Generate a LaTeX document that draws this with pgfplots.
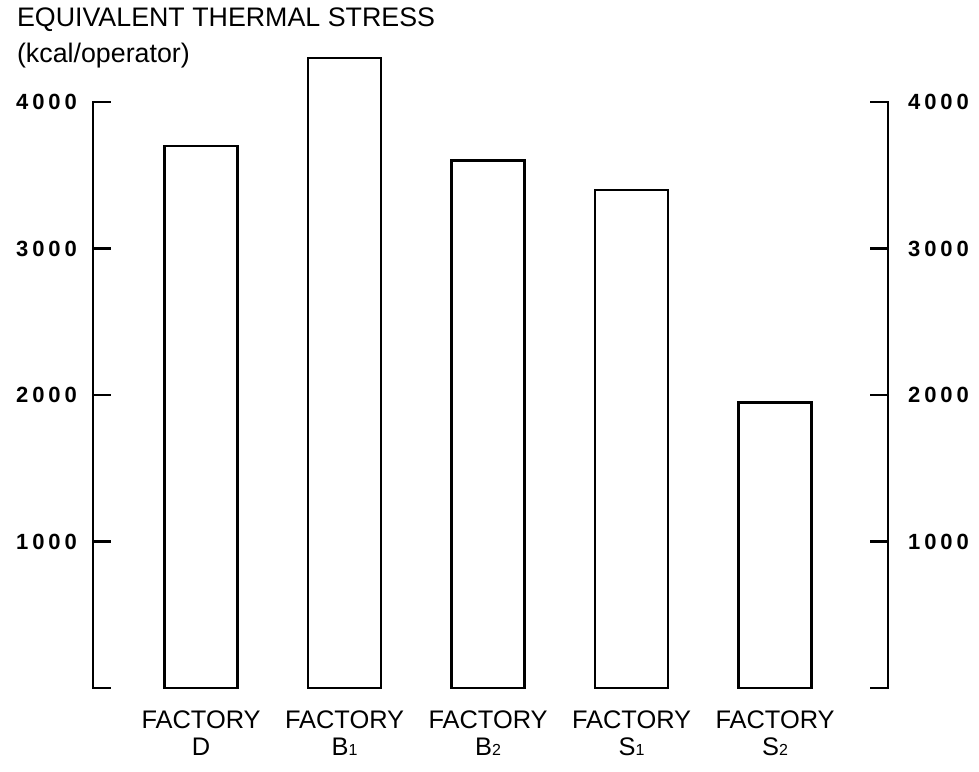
\documentclass[border=0pt]{standalone}
\usepackage{fontspec}
\setmainfont{Liberation Sans}
\newfontfamily\tickfont[LetterSpace=18]{Liberation Sans}
\usepackage{pgfplots}
\pgfplotsset{compat=1.18}

\pgfplotstableread{
x y
0 3700
1 4300
2 3600
3 3400
4 1950
}\stress

\newcommand{\sub}[1]{{\fontsize{8}{8}\selectfont #1}}

\pgfplotsset{
  common/.style={
    scale only axis, width=397.5pt, height=293pt,
    xmin=-0.753, xmax=4.787, ymin=0, ymax=4000,
    clip=false,
    ytick={0,1000,...,4000},
    yticklabels={,1000,2000,3000,4000},
    tick align=inside,
    major tick length=9pt,
    y axis line style={line width=1.3pt, line cap=rect},
    major y tick style={line width=1.3pt, black},
    yticklabel style={font=\tickfont\bfseries\fontsize{11}{12}\selectfont},
  }
}

\begin{document}
\begin{tikzpicture}
\useasboundingbox (-46.5pt,-41.5pt) rectangle (443pt,344pt);

\begin{axis}[common,
  axis y line*=left, axis x line*=bottom,
  x axis line style={draw=none},
  xtick={0,...,4}, major x tick style={draw=none},
  xticklabels={{FACTORY\\D},{FACTORY\\B\sub{1}},{FACTORY\\B\sub{2}},
    {FACTORY\\S\sub{1}},{FACTORY\\S\sub{2}}},
  xticklabel style={align=center, font=\fontsize{12.7}{13.5}\selectfont, yshift=1pt},
  yticklabel style={xshift=-4.5pt},
  ybar, bar width=36.5pt,
]
\addplot[draw=black, fill=white, line width=1.3pt] table[x=x, y=y] {\stress};
\end{axis}

\begin{axis}[common,
  axis y line*=right, axis x line=none,
  yticklabel style={xshift=6.5pt},
]
\addplot[draw=none] coordinates {(0,0)};
\end{axis}

\node[anchor=base west, font=\fontsize{13.4}{16}\selectfont] at (-41.5pt,330.5pt) {EQUIVALENT THERMAL STRESS};
\node[anchor=base west, font=\fontsize{13.4}{16}\selectfont] at (-41.5pt,312.5pt) {(kcal/operator)};
\end{tikzpicture}
\end{document}
